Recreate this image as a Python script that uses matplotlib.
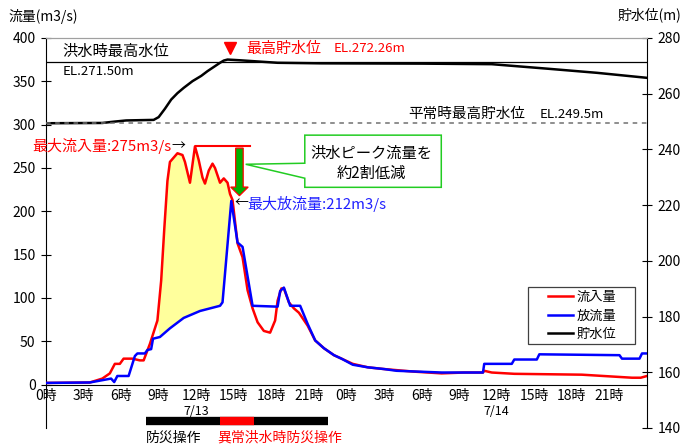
import numpy as np
import matplotlib.pyplot as plt
from matplotlib.patches import FancyArrow, Polygon, Rectangle

plt.rcParams['font.family'] = ['Noto Sans CJK JP', 'DejaVu Sans']

# Inflow (m3/s), hours since 7/13 0:00
inflow_t = [0, 3.5, 4.5, 5.1, 5.5, 5.9, 6.2, 6.9, 7.5, 7.8, 8.3, 8.9, 9.2, 9.45, 9.7, 9.9,
            10.2, 10.5, 10.9, 11.1, 11.5, 11.9, 12.2, 12.5, 12.7, 13.0, 13.3, 13.5, 13.9,
            14.2, 14.5, 14.7, 14.9, 15.3, 15.7, 16.1, 16.5, 16.9, 17.4, 17.9, 18.3, 18.5,
            18.8, 19.0, 19.4, 19.8, 20.2, 20.9, 21.5, 22.2, 23.0, 23.6, 24.5, 25.7, 27.0,
            29.4, 31.6, 33.4, 34.9, 35.0, 35.6, 37.4, 42.8, 46.8, 47.5, 48]
inflow_q = [2, 2.5, 7, 13, 24, 24, 30, 30, 28, 28, 47, 74, 120, 180, 235, 257,
            262, 267, 265, 257, 233, 275, 259, 239, 232, 247, 255, 250, 233,
            238, 233, 220, 213, 163, 147, 109, 88, 72, 62, 60, 74, 97,
            111, 111, 95, 88, 83, 68, 51, 42, 34, 30, 24, 20, 18,
            15, 13, 14, 14, 16, 14, 12.5, 11.5, 8, 8, 10]

# Outflow (m3/s)
outflow_t = [0, 3.5, 5.2, 5.45, 5.7, 6.6, 7.1, 7.3, 7.9, 8.1, 8.4, 8.55, 9.1, 9.9, 11.0,
             12.3, 13.9, 14.1, 14.8, 15.3, 15.7, 16.5, 18.5, 18.7, 19.0, 19.5, 20.3, 20.9,
             21.5, 22.2, 23.0, 23.6, 24.5, 25.7, 27.0, 28.0, 31.6, 33.4, 34.9, 35.0, 37.2,
             37.4, 39.2, 39.4, 45.8, 46.0, 47.4, 47.6, 48]
outflow_q = [2, 2.5, 7, 3, 10, 10, 33, 36, 36, 40, 41, 53, 55, 65, 77,
             85, 91, 95, 212, 164, 159, 91, 90, 108, 112, 91, 91, 70,
             51, 42, 34, 30, 23, 20, 18, 16, 14, 14, 14, 24, 24,
             29, 29, 35, 34, 30, 30, 36, 36]

# Reservoir level (EL.m)
level_t = [0, 4.5, 5.5, 6.4, 8.6, 9.0, 9.5, 10.0, 10.5, 11.0, 11.7, 12.4, 12.9, 13.4,
           13.9, 14.2, 14.5, 15.5, 18.5, 22, 30, 35.6, 40, 44, 48]
level_h = [249.4, 249.5, 250.0, 250.4, 250.6, 251.6, 254.6, 257.9, 260.2, 262.1, 264.5,
           266.4, 268.1, 269.6, 271.1, 271.9, 272.26, 272.0, 271.1, 270.9, 270.8, 270.6,
           269.0, 267.5, 265.7]

flood_max_level = 271.5
normal_max_level = 249.5
peak_in, peak_out = 275, 212

hour_ticks = list(range(0, 48, 3))
hour_labels = [f'{h % 24}時' for h in hour_ticks]

ops_span = [8.0, 22.5]
abnormal_span = [13.9, 16.6]

fig = plt.figure(figsize=(6.82, 4.46), dpi=100)
ax = fig.add_axes([0.0674, 0.0404, 0.8813, 0.8744])
ax2 = ax.twinx()

ax.set_xlim(0, 48)
ax.set_ylim(-50, 400)
ax2.set_ylim(140, 280)

# storage area between inflow and outflow
sel_in = [(t, q) for t, q in zip(inflow_t, inflow_q) if 8.6 <= t <= 14.8]
sel_out = [(t, q) for t, q in zip(outflow_t, outflow_q) if 8.6 <= t <= 14.8]
poly = sel_in + [(14.8, 212)] + sel_out[::-1]
ax.add_patch(Polygon(poly, closed=True, facecolor='#ffff9c', edgecolor='none', zorder=1))

l1, = ax.plot(inflow_t, inflow_q, color='#ff0000', lw=1.8, zorder=3, label='流入量')
l2, = ax.plot(outflow_t, outflow_q, color='#0000ff', lw=1.8, zorder=4, label='放流量')
l3, = ax2.plot(level_t, level_h, color='black', lw=1.8, label='貯水位')
ax2.axhline(flood_max_level, color='black', lw=0.9)
ax2.axhline(normal_max_level, color='#707070', lw=1.1, ls=(0, (3, 3)))

# spines / ticks
ax.spines['bottom'].set_position(('data', 0))
ax.spines['top'].set_color('#a0a0a0')
ax.spines['right'].set_visible(False)
ax2.spines['bottom'].set_visible(False)
ax2.spines['left'].set_visible(False)
ax2.spines['top'].set_color('#a0a0a0')
ax.set_yticks(np.arange(0, 401, 50))
ax2.set_yticks(np.arange(140, 281, 20))
ax.tick_params(axis='y', direction='inout', length=7, labelsize=10, pad=4)
ax2.tick_params(axis='y', direction='inout', length=7, labelsize=10, pad=4)
ax.set_xticks(hour_ticks)
ax.set_xticklabels(hour_labels)
ax.tick_params(axis='x', length=0, labelsize=10, pad=3)
ax.text(12, -31, '7/13', ha='center', va='center', fontsize=9)
ax.text(36, -31, '7/14', ha='center', va='center', fontsize=9)

# operation bars
ax.plot(ops_span, [-42, -42], color='black', lw=6, solid_capstyle='butt', clip_on=False)
ax.plot(abnormal_span, [-42, -42], color='#ff0000', lw=6, solid_capstyle='butt', clip_on=False)
ax.text(8.0, -61, '防災操作', fontsize=10, va='center', ha='left', clip_on=False)
ax.text(13.7, -61, '異常洪水時防災操作', fontsize=10, va='center', ha='left',
        color='#ff0000', clip_on=False)

# axis titles
fig.text(8 / 682, 1 - 17 / 446, '流量(m3/s)', fontsize=10, va='center', ha='left')
fig.text(618 / 682, 1 - 15 / 446, '貯水位(m)', fontsize=10, va='center', ha='left')

# level annotations
ax.text(1.35, 384, '洪水時最高水位', fontsize=11, va='center')
ax.text(1.35, 361, 'EL.271.50m', fontsize=9.5, va='center')
ax.plot(14.7, 388, marker='v', color='#ff0000', ms=8)
ax.text(16.0, 388, '最高貯水位', fontsize=10.8, va='center', color='#ff0000')
ax.text(23.0, 388, 'EL.272.26m', fontsize=9.5, va='center', color='#ff0000')
ax.text(28.9, 312, '平常時最高貯水位', fontsize=10.5, va='center')
ax.text(39.4, 312, 'EL.249.5m', fontsize=9.5, va='center')

# peak annotations
ax.plot([12.0, 16.3], [peak_in, peak_in], color='#ff0000', lw=1.5)
ax.text(10.05, peak_in, f'最大流入量:{peak_in}m3/s', fontsize=10.8, va='center',
        ha='right', color='#ff0000')
ax.text(10.05, peak_in, '→', fontsize=10, va='center', ha='left')
ax.text(15.05, 209, '←', fontsize=10, va='center', ha='left')
ax.text(16.1, 209, f'最大放流量:{peak_out}m3/s', fontsize=10.8, va='center',
        ha='left', color='#2020ff')

ax.add_patch(FancyArrow(15.45, 273, 0, -55, width=0.6, head_width=1.4, head_length=10,
                        length_includes_head=True, facecolor='#00b000',
                        edgecolor='#ff0000', lw=0.9, zorder=5))

callout = [(20.67, 287.9), (31.57, 287.9), (31.57, 227.7), (20.67, 227.7),
           (20.67, 238.2), (15.95, 254.3), (20.67, 255.5)]
ax.add_patch(Polygon(callout, closed=True, facecolor='white', edgecolor='#22cc22',
                     lw=1.1, zorder=5))
ax.text(26.0, 267, '洪水ピーク流量を', fontsize=11, ha='center', va='center', zorder=6)
ax.text(26.0, 244, '約2割低減', fontsize=11, ha='center', va='center', zorder=6)

# legend: frame drawn separately to match the wide box
ax2.add_patch(Rectangle((528 / 682, 1 - 344 / 446), 107 / 682, 57 / 446,
                        transform=fig.transFigure, facecolor='white',
                        edgecolor='#404040', lw=0.9, zorder=10, clip_on=False))
leg = ax2.legend(handles=[l1, l2, l3], loc='upper left',
                 bbox_to_anchor=(548 / 682, 1 - 291 / 446), bbox_transform=fig.transFigure,
                 fontsize=9.5, frameon=False, handlelength=1.9, borderpad=0,
                 borderaxespad=0, labelspacing=0.42, handletextpad=0.25)
leg.set_zorder(11)

fig.savefig('out.png', dpi=100)
